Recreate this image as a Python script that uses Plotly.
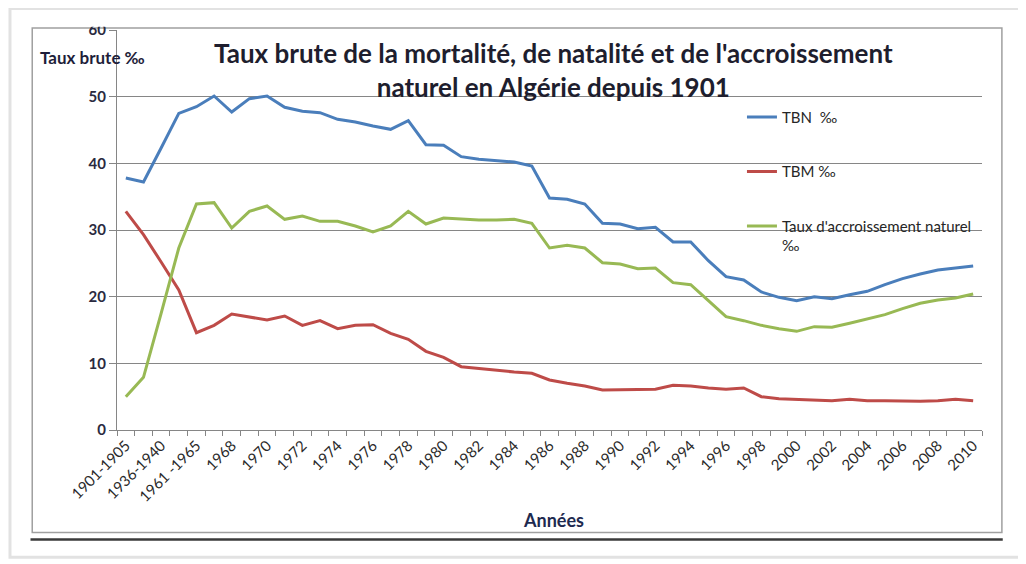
import plotly.graph_objects as go

annees = [
    "1901-1905", "1921-1925", "1936-1940", "1946-1950", "1961 -1965", "1967",
    "1968", "1969", "1970", "1971", "1972", "1973", "1974", "1975", "1976", "1977",
    "1978", "1979", "1980", "1981", "1982", "1983", "1984", "1985", "1986", "1987",
    "1988", "1989", "1990", "1991", "1992", "1993", "1994", "1995", "1996", "1997",
    "1998", "1999", "2000", "2001", "2002", "2003", "2004", "2005", "2006", "2007",
    "2008", "2009", "2010",
]

tbn = [
    37.8, 37.2, 42.3, 47.5, 48.5, 50.1, 47.7, 49.7, 50.1, 48.4,
    47.8, 47.6, 46.6, 46.2, 45.6, 45.1, 46.4, 42.8, 42.7, 41.0,
    40.6, 40.4, 40.2, 39.6, 34.8, 34.6, 33.9, 31.0, 30.9, 30.2,
    30.4, 28.2, 28.2, 25.4, 23.0, 22.5, 20.7, 19.9, 19.4, 20.0,
    19.7, 20.3, 20.8, 21.8, 22.7, 23.4, 24.0, 24.3, 24.6,
]

tbm = [
    32.8, 29.3, 25.2, 21.0, 14.6, 15.7, 17.4, 17.0, 16.5, 17.1,
    15.7, 16.4, 15.2, 15.7, 15.8, 14.5, 13.6, 11.8, 10.9, 9.5,
    9.2, 8.9, 8.7, 8.5, 7.5, 7.0, 6.6, 6.0, 6.0, 6.0,
    6.1, 6.7, 6.6, 6.3, 6.1, 6.3, 5.0, 4.7, 4.6, 4.5,
    4.4, 4.6, 4.4, 4.4, 4.3, 4.3, 4.4, 4.6, 4.4,
]

tan = [
    5.0, 7.9, 17.5, 27.3, 33.9, 34.1, 30.3, 32.8, 33.6, 31.6,
    32.1, 31.3, 31.3, 30.6, 29.7, 30.6, 32.8, 30.9, 31.8, 31.6,
    31.5, 31.5, 31.6, 31.0, 27.3, 27.7, 27.3, 25.1, 24.9, 24.2,
    24.3, 22.1, 21.8, 19.4, 17.0, 16.4, 15.7, 15.2, 14.8, 15.5,
    15.4, 16.0, 16.6, 17.3, 18.2, 19.0, 19.5, 19.8, 20.4,
]

y_ticks = [0, 10, 20, 30, 40, 50, 60]

series = [
    ("TBN  ‰", tbn, "#4A7EBB"),
    ("TBM ‰", tbm, "#BE4B48"),
    ("Taux d'accroissement naturel<br>‰", tan, "#98B954"),
]

FONT = "Lato, 'Open Sans', sans-serif"
pos = list(range(len(annees)))

fig = go.Figure()
for i, (name, vals, color) in enumerate(series):
    fig.add_trace(go.Scatter(
        x=pos, y=vals, mode="lines", name=name,
        legendgroup=f"g{i}",
        line=dict(color=color, width=3),
    ))

# labels only every second category, like the original
ticktext = [a if i % 2 == 0 else "" for i, a in enumerate(annees)]

fig.update_layout(
    width=1026, height=564,
    margin=dict(l=109, r=52, t=20, b=142),
    paper_bgcolor="white", plot_bgcolor="white",
    font=dict(family=FONT, color="#262626"),
    showlegend=True,
    legend=dict(
        x=0.7225, y=0.823, xanchor="left", yanchor="top",
        font=dict(size=15, family=FONT, color="#262626"),
        tracegroupgap=32, valign="top", bgcolor="rgba(0,0,0,0)",
        itemwidth=30,
    ),
    xaxis=dict(
        range=[-0.5, len(annees) - 0.5],
        tickmode="array", tickvals=pos, ticktext=ticktext,
        tickangle=-45, ticks="",
        tickfont=dict(size=15, family=FONT, color="#2a2a2a"),
        showline=True, linecolor="#868686", linewidth=1,
        showgrid=False, zeroline=False,
        minor=dict(ticks="outside", tick0=-0.5, dtick=1, ticklen=5,
                   tickcolor="#868686", showgrid=False),
    ),
    yaxis=dict(
        range=[0, 60], tickmode="array", tickvals=y_ticks,
        ticks="outside", ticklen=7, tickcolor="#868686",
        tickfont=dict(size=15, family=FONT, color="#2a2a40", weight="bold"),
        showline=True, linecolor="#868686", linewidth=1,
        showgrid=True, gridcolor="#868686", gridwidth=1,
        zeroline=False,
    ),
)

fig.add_annotation(
    text="Taux brute de la mortalité, de natalité et de l'accroissement<br>naturel en Algérie depuis 1901",
    xref="paper", yref="paper", x=0.505, y=0.90, xanchor="center", yanchor="middle",
    showarrow=False, font=dict(size=26, family=FONT, color="#1e1e2e", weight="bold"),
)
fig.add_annotation(
    text="Taux brute ‰", xref="paper", yref="paper", x=-0.091, y=0.93,
    xanchor="left", yanchor="middle", showarrow=False,
    font=dict(size=17, family=FONT, color="#1e1e3a", weight="bold"),
)
fig.add_annotation(
    text="Années", xref="paper", yref="paper", x=0.505, y=-0.225,
    xanchor="center", yanchor="middle", showarrow=False,
    font=dict(size=18, family=FONT, color="#1e2a50", weight="bold"),
)

# chart frame, bottom rule and faint outer shadow
fig.add_shape(type="rect", xref="paper", yref="paper",
              x0=-0.1237, x1=1.2, y0=-0.318, y1=1.054,
              line=dict(color="#e2e2e2", width=3), layer="below")
fig.add_shape(type="rect", xref="paper", yref="paper",
              x0=-0.098, x1=1.023, y0=-0.256, y1=1.005,
              line=dict(color="#a0a0a0", width=1.5), layer="below")
fig.add_shape(type="line", xref="paper", yref="paper",
              x0=-0.100, x1=1.024, y0=-0.274, y1=-0.274,
              line=dict(color="#3a3a3a", width=2.5))
# the top of the "60" label is clipped by the frame in the original
fig.add_shape(type="rect", xref="paper", yref="paper",
              x0=-0.08, x1=-0.012, y0=1.008, y1=1.05,
              fillcolor="white", line=dict(width=0), layer="above")

fig.write_html("out.html")
